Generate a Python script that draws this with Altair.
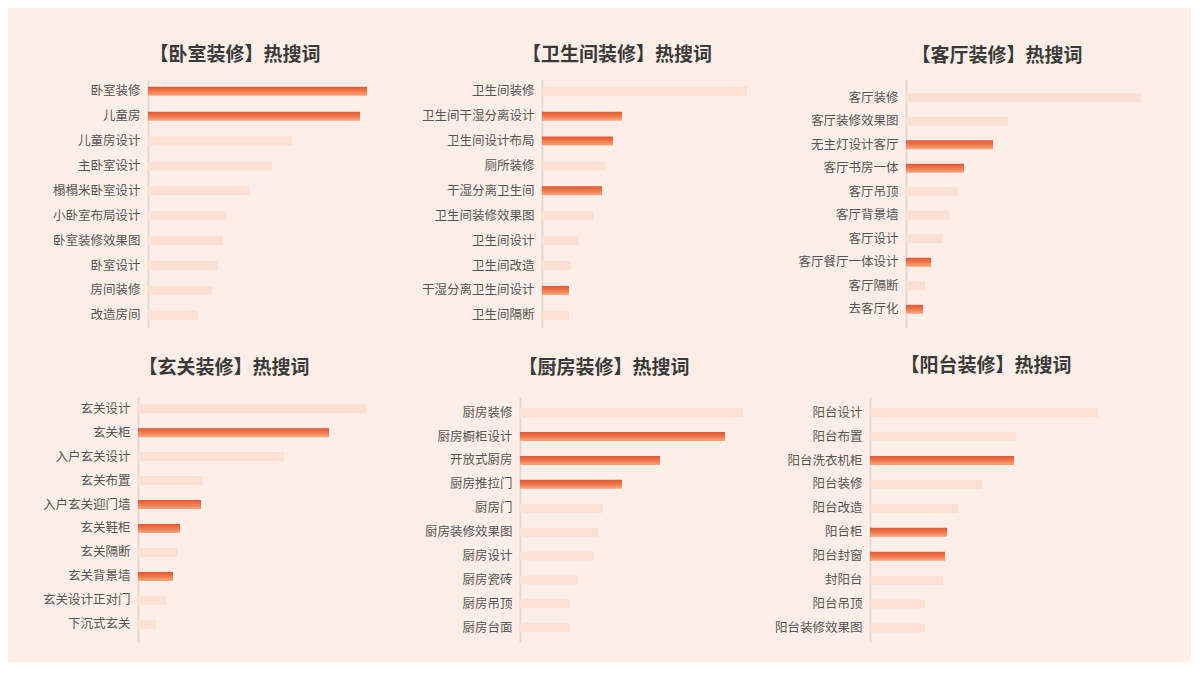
import altair as alt
import pandas as pd

FONT = "Noto Sans CJK SC"

# ---------------- data ----------------
bedroom_title = "【卧室装修】热搜词"
bedroom_kw = ["卧室装修", "儿童房", "儿童房设计", "主卧室设计", "榻榻米卧室设计",
              "小卧室布局设计", "卧室装修效果图", "卧室设计", "房间装修", "改造房间"]
bedroom_val = [219, 212, 144, 124, 101, 78, 75, 70, 64, 50]
bedroom_hot = [1, 1, 0, 0, 0, 0, 0, 0, 0, 0]

bath_title = "【卫生间装修】热搜词"
bath_kw = ["卫生间装修", "卫生间干湿分离设计", "卫生间设计布局", "厕所装修", "干湿分离卫生间",
           "卫生间装修效果图", "卫生间设计", "卫生间改造", "干湿分离卫生间设计", "卫生间隔断"]
bath_val = [205, 80, 71, 63, 60, 51, 37, 29, 27, 27]
bath_hot = [0, 1, 1, 0, 1, 0, 0, 0, 1, 0]

living_title = "【客厅装修】热搜词"
living_kw = ["客厅装修", "客厅装修效果图", "无主灯设计客厅", "客厅书房一体", "客厅吊顶",
             "客厅背景墙", "客厅设计", "客厅餐厅一体设计", "客厅隔断", "去客厅化"]
living_val = [235, 102, 87, 58, 51, 43, 37, 25, 19, 17]
living_hot = [0, 0, 1, 1, 0, 0, 0, 1, 0, 1]

entry_title = "【玄关装修】热搜词"
entry_kw = ["玄关设计", "玄关柜", "入户玄关设计", "玄关布置", "入户玄关迎门墙",
            "玄关鞋柜", "玄关隔断", "玄关背景墙", "玄关设计正对门", "下沉式玄关"]
entry_val = [228, 191, 146, 65, 63, 42, 39, 35, 28, 18]
entry_hot = [0, 1, 0, 0, 1, 1, 0, 1, 0, 0]

kitchen_title = "【厨房装修】热搜词"
kitchen_kw = ["厨房装修", "厨房橱柜设计", "开放式厨房", "厨房推拉门", "厨房门",
              "厨房装修效果图", "厨房设计", "厨房瓷砖", "厨房吊顶", "厨房台面"]
kitchen_val = [223, 205, 140, 102, 83, 78, 74, 58, 50, 50]
kitchen_hot = [0, 1, 1, 1, 0, 0, 0, 0, 0, 0]

balcony_title = "【阳台装修】热搜词"
balcony_kw = ["阳台设计", "阳台布置", "阳台洗衣机柜", "阳台装修", "阳台改造",
              "阳台柜", "阳台封窗", "封阳台", "阳台吊顶", "阳台装修效果图"]
balcony_val = [228, 146, 144, 112, 88, 77, 75, 73, 55, 55]
balcony_hot = [0, 0, 1, 0, 0, 1, 1, 0, 0, 0]

# ---------------- style ----------------
LIGHT = "#fde0d4"
GRAD = alt.Gradient(
    gradient="linear",
    stops=[
        alt.GradientStop(color="#e4562f", offset=0),
        alt.GradientStop(color="#f07549", offset=0.45),
        alt.GradientStop(color="#f9a882", offset=1),
    ],
    x1=0, x2=0, y1=0, y2=1,
)


def panel(title, kws, vals, hot, width, xoff, top, height, c0, c_last, title_dx, title_off):
    df = pd.DataFrame({"kw": kws, "v": vals, "hot": hot})
    n = len(kws)
    bw = 9.0
    step = (c_last - c0) / (n - 1)
    p_in = 1 - bw / step
    p_out = (height / step - n + p_in) / 2
    free = height - step * (n - p_in)
    align = (c0 - bw / 2 - top) / free
    yscale = alt.Scale(domain=kws, paddingInner=p_in, paddingOuter=p_out, align=align)
    y = alt.Y(
        "kw:N", sort=kws, scale=yscale,
        axis=alt.Axis(
            title=None, ticks=False, labelPadding=8, labelFontSize=12.5,
            labelColor="#555555", labelFont=FONT, domainColor="#dedad8",
            domainWidth=2, offset=-xoff, grid=False, labelLimit=300,
        ),
    )
    x = alt.X("v:Q", scale=alt.Scale(domain=[-xoff, width - xoff]), axis=None)
    base = alt.Chart(df).encode(y=y, x=x)
    light = base.transform_filter("datum.hot == 0").mark_bar(color=LIGHT)
    strong = base.transform_filter("datum.hot == 1").mark_bar(color=GRAD)
    return alt.layer(light, strong).properties(
        width=width, height=height,
        title=alt.TitleParams(
            text=title, anchor="start", align="center", dx=title_dx,
            offset=title_off, baseline="middle", fontSize=19, font=FONT,
            fontWeight="bold", color="#3a3a3a", frame="group",
        ),
    )


T1, H1 = 77, 249
T2, H2 = 395, 245
W1, W2, W3 = 262, 230, 275

p1 = panel(bedroom_title, bedroom_kw, bedroom_val, bedroom_hot, W1, 10, T1, H1, 89.3, 313.3, 97, 5)
p2 = panel(bath_title, bath_kw, bath_val, bath_hot, W2, 22, T1, H1, 89.3, 313.3, 97, 5)
p3 = panel(living_title, living_kw, living_val, living_hot, W3, 36, T1, H1, 95.7, 307.3, 127, 4)
p4 = panel(entry_title, entry_kw, entry_val, entry_hot, W1, 0, T2, H2, 406.7, 622.3, 86, 10)
p5 = panel(kitchen_title, kitchen_kw, kitchen_val, kitchen_hot, W2, 0, T2, H2, 410.7, 625.7, 84, 10)
p6 = panel(balcony_title, balcony_kw, balcony_val, balcony_hot, W3, 0, T2, H2, 410.7, 626.0, 116, 12)

chart = alt.concat(
    p1, p2, p3, p4, p5, p6,
    columns=3, spacing={"row": 69, "column": 120}, bounds="flush",
).properties(
    padding={"left": 34, "top": 38, "right": 46, "bottom": 20},
    background="#fdefe8",
).configure_view(stroke=None)

chart.save("out.html", embed_options={"renderer": "svg", "actions": False})
